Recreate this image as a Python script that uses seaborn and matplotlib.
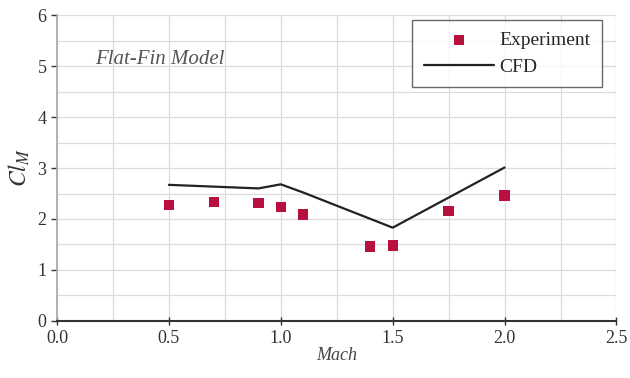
import matplotlib
matplotlib.use("Agg")
import matplotlib.pyplot as plt
import seaborn as sns
import pandas as pd
from matplotlib.ticker import MultipleLocator

exp_mach = [0.5, 0.7, 0.9, 1.0, 1.1, 1.4, 1.5, 1.75, 2.0]
exp_cl = [2.27, 2.33, 2.31, 2.23, 2.09, 1.46, 1.48, 2.16, 2.46]
cfd_mach = [0.5, 0.9, 1.0, 1.1, 1.5, 2.0]
cfd_cl = [2.67, 2.60, 2.68, 2.52, 1.83, 3.01]

sns.set_theme(style="white")
plt.rcParams['font.family'] = ['Liberation Serif', 'DejaVu Serif']
plt.rcParams['mathtext.fontset'] = 'stix'

fig = plt.figure(figsize=(6.3, 3.78), dpi=100)
ax = fig.add_axes([0.0905, 0.151, 0.888, 0.809])

exp_df = pd.DataFrame({"Mach": exp_mach, "Cl": exp_cl})
cfd_df = pd.DataFrame({"Mach": cfd_mach, "Cl": cfd_cl})

sns.lineplot(data=cfd_df, x="Mach", y="Cl", ax=ax, color="#222222", lw=1.6,
             label="CFD", zorder=3)
sns.scatterplot(data=exp_df, x="Mach", y="Cl", ax=ax, color="#B8103F", marker="s",
                s=55, edgecolor="none", label="Experiment", zorder=4)

ax.set_xlim(0, 2.5)
ax.set_ylim(0, 6)
ax.xaxis.set_major_locator(MultipleLocator(0.5))
ax.xaxis.set_minor_locator(MultipleLocator(0.25))
ax.yaxis.set_major_locator(MultipleLocator(1))
ax.yaxis.set_minor_locator(MultipleLocator(0.5))
ax.set_xticklabels([f"{v:.1f}" for v in ax.get_xticks()])
ax.grid(which="both", color="#dcdcdc", lw=0.9)
ax.set_axisbelow(True)

for s in ["top", "right"]:
    ax.spines[s].set_visible(False)
ax.spines["left"].set_color("#aaaaaa")
ax.spines["bottom"].set_color("#333333")
ax.spines["bottom"].set_linewidth(1.5)
ax.tick_params(axis="both", labelsize=13, colors="#333333", length=4, width=1,
               direction="out", left=True, bottom=True)
ax.tick_params(axis="x", direction="inout", length=6)

ax.set_xlabel("Mach", fontsize=13, style="italic", color="#444444", labelpad=0)
ax.set_ylabel("$Cl_M$", fontsize=17, color="#333333", labelpad=4)

ax.text(0.17, 5.12, "Flat-Fin Model", fontsize=15, style="italic", color="#555555",
        va="center", ha="left")

handles, labels = ax.get_legend_handles_labels()
order = [labels.index("Experiment"), labels.index("CFD")]
leg = ax.legend([handles[i] for i in order], [labels[i] for i in order],
                loc="upper right", bbox_to_anchor=(0.975, 0.984), fontsize=14,
                frameon=True, fancybox=False, edgecolor="#444444",
                borderpad=0.6, labelspacing=0.45, handlelength=3.6,
                handletextpad=0.3, borderaxespad=0.0)
leg.get_frame().set_linewidth(1.0)

fig.savefig("out.png", dpi=100)
